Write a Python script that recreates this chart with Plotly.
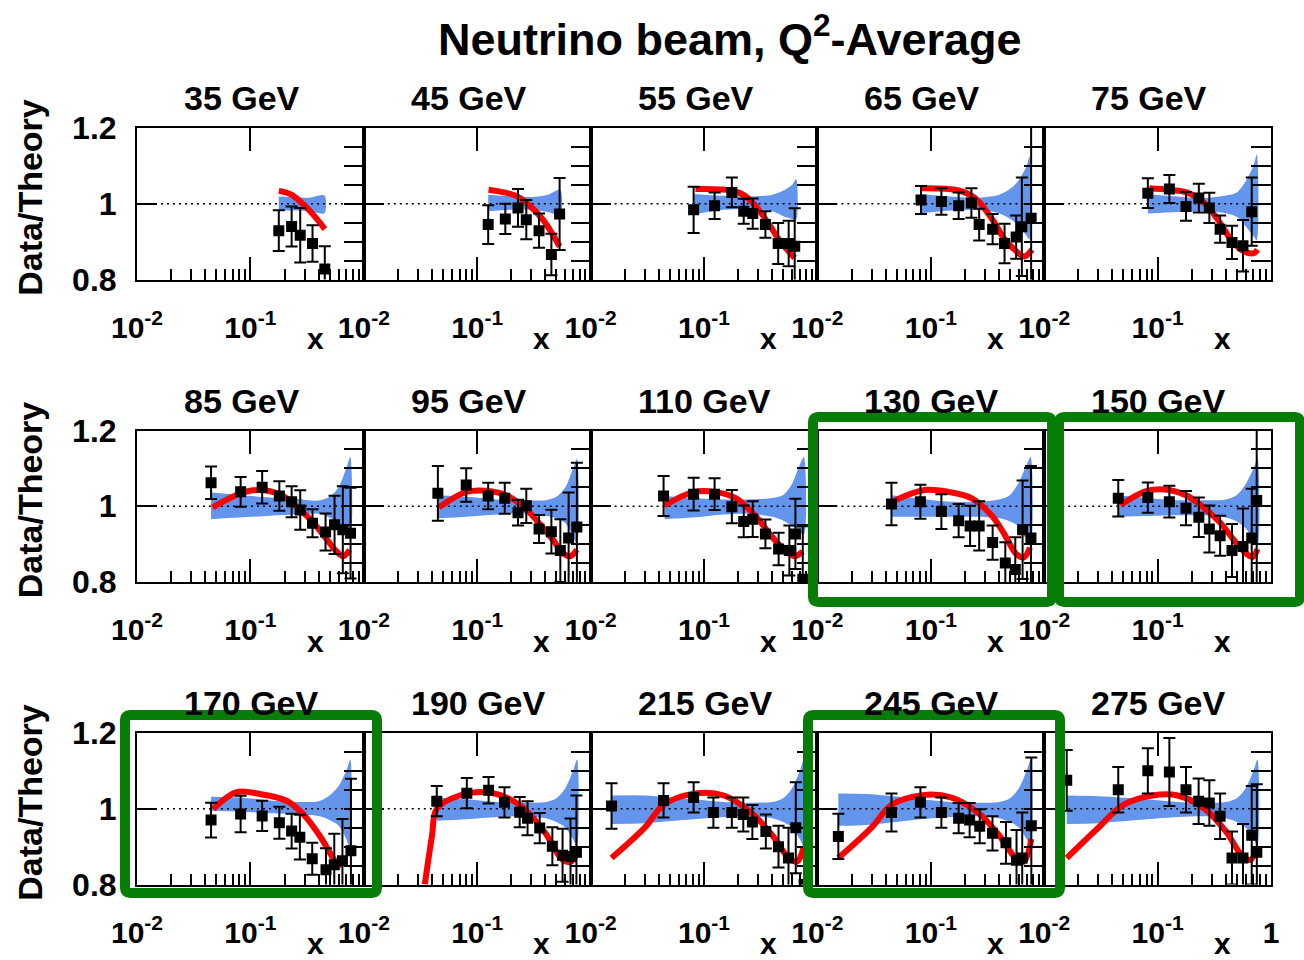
import plotly.graph_objects as go

# ---------------------------------------------------------------- data
ENERGIES = ["35 GeV", "45 GeV", "55 GeV", "65 GeV", "75 GeV",
            "85 GeV", "95 GeV", "110 GeV", "130 GeV", "150 GeV",
            "170 GeV", "190 GeV", "215 GeV", "245 GeV", "275 GeV"]

# measured Data/Theory points
DATA_X = [
    [0.178, 0.231, 0.275, 0.353, 0.453],
    [0.125, 0.177, 0.229, 0.271, 0.351, 0.451, 0.533],
    [0.081, 0.124, 0.176, 0.224, 0.269, 0.348, 0.451, 0.558, 0.631],
    [0.082, 0.124, 0.176, 0.228, 0.267, 0.351, 0.447, 0.566, 0.635, 0.767],
    [0.082, 0.127, 0.178, 0.231, 0.286, 0.356, 0.453, 0.566, 0.676],
    [0.045, 0.082, 0.127, 0.180, 0.231, 0.275, 0.353, 0.460, 0.552, 0.653, 0.764],
    [0.045, 0.080, 0.125, 0.175, 0.229, 0.271, 0.351, 0.451, 0.541, 0.640, 0.757],
    [0.044, 0.081, 0.124, 0.176, 0.224, 0.269, 0.348, 0.455, 0.566, 0.640, 0.743],
    [0.045, 0.081, 0.124, 0.176, 0.222, 0.267, 0.351, 0.454, 0.556, 0.645, 0.764],
    [0.045, 0.082, 0.127, 0.178, 0.231, 0.286, 0.356, 0.453, 0.566, 0.676, 0.748],
    [0.045, 0.082, 0.127, 0.180, 0.231, 0.273, 0.351, 0.464, 0.549, 0.648, 0.770],
    [0.044, 0.081, 0.126, 0.174, 0.237, 0.278, 0.356, 0.460, 0.566, 0.665, 0.750],
    [0.0153, 0.044, 0.081, 0.121, 0.176, 0.222, 0.267, 0.351, 0.454, 0.556, 0.645, 0.764],
    [0.0153, 0.045, 0.081, 0.124, 0.176, 0.220, 0.270, 0.350, 0.460, 0.570, 0.640, 0.770],
    [0.0158, 0.045, 0.082, 0.127, 0.178, 0.230, 0.286, 0.356, 0.453, 0.566, 0.676, 0.750],
]
DATA_Y = [
    [0.929, 0.940, 0.917, 0.895, 0.828],
    [0.945, 0.960, 0.989, 0.958, 0.929, 0.866, 0.973],
    [0.984, 0.995, 1.030, 0.980, 0.974, 0.945, 0.895, 0.895, 0.888],
    [1.010, 1.006, 0.995, 1.002, 0.945, 0.933, 0.895, 0.912, 0.939, 0.962],
    [1.028, 1.039, 0.993, 1.015, 0.989, 0.933, 0.898, 0.889, 0.979],
    [1.062, 1.038, 1.050, 1.027, 1.012, 0.990, 0.955, 0.932, 0.951, 0.938, 0.929],
    [1.034, 1.056, 1.027, 1.021, 0.983, 1.001, 0.940, 0.933, 0.883, 0.916, 0.945],
    [1.027, 1.032, 1.032, 0.999, 0.960, 0.966, 0.927, 0.887, 0.883, 0.927, 0.807],
    [1.006, 1.012, 0.986, 0.962, 0.948, 0.948, 0.904, 0.850, 0.833, 0.938, 0.916],
    [1.021, 1.023, 1.012, 0.995, 0.971, 0.940, 0.922, 0.883, 0.894, 0.916, 1.015],
    [0.970, 0.986, 0.981, 0.963, 0.941, 0.925, 0.868, 0.839, 0.852, 0.863, 0.889],
    [1.020, 1.041, 1.049, 1.017, 0.991, 0.975, 0.949, 0.901, 0.877, 0.874, 0.885],
    [1.007, 1.022, 1.030, 0.990, 0.990, 0.985, 0.965, 0.940, 0.900, 0.870, 0.950, 0.800],
    [0.927, 0.990, 1.017, 0.990, 0.975, 0.970, 0.954, 0.935, 0.910, 0.864, 0.870, 0.955],
    [1.075, 1.050, 1.100, 1.097, 1.050, 1.020, 1.015, 0.980, 0.870, 0.870, 0.930, 0.885],
]
DATA_ERR = [
    [0.054, 0.053, 0.072, 0.048, 0.060],
    [0.051, 0.040, 0.050, 0.052, 0.045, 0.055, 0.095],
    [0.061, 0.035, 0.039, 0.033, 0.040, 0.035, 0.054, 0.060, 0.100],
    [0.037, 0.035, 0.035, 0.039, 0.042, 0.040, 0.052, 0.057, 0.130, 0.250],
    [0.039, 0.037, 0.038, 0.038, 0.040, 0.036, 0.044, 0.068, 0.090],
    [0.043, 0.039, 0.043, 0.039, 0.041, 0.052, 0.037, 0.049, 0.077, 0.115, 0.120],
    [0.072, 0.044, 0.035, 0.041, 0.034, 0.045, 0.037, 0.058, 0.083, 0.120, 0.170],
    [0.053, 0.043, 0.042, 0.044, 0.042, 0.047, 0.038, 0.043, 0.066, 0.093, 0.140],
    [0.056, 0.045, 0.046, 0.044, 0.053, 0.065, 0.045, 0.055, 0.085, 0.130, 0.190],
    [0.048, 0.040, 0.042, 0.045, 0.052, 0.062, 0.053, 0.070, 0.100, 0.130, 0.250],
    [0.046, 0.048, 0.040, 0.042, 0.046, 0.059, 0.042, 0.057, 0.082, 0.110, 0.190],
    [0.040, 0.040, 0.035, 0.040, 0.040, 0.045, 0.040, 0.050, 0.070, 0.100, 0.150],
    [0.060, 0.045, 0.040, 0.040, 0.040, 0.045, 0.045, 0.045, 0.055, 0.080, 0.120, 0.150],
    [0.060, 0.050, 0.040, 0.040, 0.040, 0.045, 0.045, 0.045, 0.055, 0.080, 0.120, 0.180],
    [0.080, 0.060, 0.060, 0.090, 0.060, 0.060, 0.060, 0.060, 0.070, 0.090, 0.130, 0.180],
]

# theory prediction (red curve), ratio to the reference theory
THEORY_X = [
    [0.178, 0.230, 0.310, 0.380, 0.453],
    [0.126, 0.220, 0.285, 0.380, 0.533],
    [0.084, 0.176, 0.230, 0.287, 0.375, 0.480, 0.630],
    [0.0835, 0.176, 0.245, 0.350, 0.450, 0.570, 0.667, 0.780],
    [0.0847, 0.127, 0.180, 0.258, 0.340, 0.455, 0.580, 0.710, 0.760],
    [0.0465, 0.099, 0.180, 0.275, 0.353, 0.470, 0.574, 0.658, 0.750],
    [0.0459, 0.0803, 0.120, 0.180, 0.271, 0.351, 0.466, 0.565, 0.660, 0.757],
    [0.045, 0.081, 0.124, 0.192, 0.287, 0.375, 0.490, 0.630, 0.740],
    [0.0485, 0.088, 0.143, 0.230, 0.350, 0.454, 0.570, 0.660, 0.750],
    [0.047, 0.0818, 0.127, 0.184, 0.270, 0.360, 0.470, 0.600, 0.690, 0.760],
    [0.0469, 0.0756, 0.121, 0.208, 0.292, 0.410, 0.535, 0.615],
    [0.0345, 0.040, 0.044, 0.070, 0.127, 0.237, 0.390, 0.566, 0.670, 0.750],
    [0.0153, 0.030, 0.044, 0.081, 0.150, 0.260, 0.400, 0.560, 0.660, 0.760],
    [0.0153, 0.030, 0.045, 0.085, 0.150, 0.260, 0.400, 0.560, 0.660, 0.770],
    [0.0158, 0.030, 0.050, 0.090, 0.150, 0.260, 0.400, 0.560, 0.660, 0.760],
]
THEORY_Y = [
    [1.034, 1.024, 0.991, 0.962, 0.933],
    [1.037, 1.021, 0.997, 0.958, 0.887],
    [1.039, 1.035, 1.021, 0.993, 0.945, 0.897, 0.857],
    [1.041, 1.035, 1.015, 0.958, 0.905, 0.874, 0.861, 0.879],
    [1.041, 1.037, 1.030, 1.002, 0.958, 0.901, 0.874, 0.870, 0.879],
    [0.997, 1.041, 1.032, 0.990, 0.959, 0.913, 0.881, 0.868, 0.885],
    [0.997, 1.038, 1.041, 1.029, 0.992, 0.955, 0.911, 0.877, 0.868, 0.885],
    [1.002, 1.038, 1.038, 1.021, 0.973, 0.929, 0.890, 0.868, 0.881],
    [1.016, 1.043, 1.038, 1.021, 0.973, 0.922, 0.873, 0.865, 0.891],
    [1.003, 1.041, 1.043, 1.027, 0.990, 0.955, 0.911, 0.876, 0.866, 0.887],
    [0.999, 1.044, 1.039, 1.021, 0.986, 0.928, 0.870, 0.843],
    [0.800, 0.930, 1.000, 1.035, 1.043, 1.010, 0.940, 0.865, 0.860, 0.880],
    [0.870, 0.950, 1.010, 1.040, 1.035, 0.990, 0.930, 0.870, 0.860, 0.900],
    [0.870, 0.950, 1.010, 1.036, 1.030, 0.990, 0.930, 0.870, 0.860, 0.920],
    [0.870, 0.950, 1.010, 1.035, 1.035, 1.000, 0.940, 0.875, 0.865, 0.900],
]

# uncertainty band of the reference theory
BAND_X = [
    [0.178, 0.250, 0.330, 0.450],
    [0.125, 0.200, 0.300, 0.420, 0.540],
    [0.082, 0.150, 0.250, 0.400, 0.520, 0.600, 0.650],
    [0.082, 0.150, 0.250, 0.400, 0.530, 0.620, 0.700, 0.740],
    [0.082, 0.150, 0.250, 0.400, 0.500, 0.600, 0.700, 0.750],
    [0.045, 0.080, 0.150, 0.250, 0.400, 0.500, 0.600, 0.700, 0.760],
    [0.045, 0.080, 0.150, 0.250, 0.400, 0.500, 0.600, 0.700, 0.760],
    [0.045, 0.080, 0.150, 0.250, 0.400, 0.500, 0.600, 0.700, 0.760],
    [0.045, 0.080, 0.150, 0.250, 0.400, 0.500, 0.600, 0.700, 0.760],
    [0.045, 0.080, 0.150, 0.250, 0.400, 0.500, 0.600, 0.700, 0.760],
    [0.045, 0.080, 0.150, 0.250, 0.400, 0.500, 0.600, 0.700, 0.760],
    [0.044, 0.080, 0.150, 0.250, 0.400, 0.500, 0.600, 0.700, 0.760],
    [0.0153, 0.030, 0.080, 0.150, 0.250, 0.400, 0.500, 0.600, 0.700, 0.760],
    [0.0153, 0.030, 0.080, 0.150, 0.250, 0.400, 0.500, 0.600, 0.700, 0.760],
    [0.0158, 0.030, 0.080, 0.150, 0.250, 0.400, 0.500, 0.600, 0.700, 0.760],
]
BAND_HI = [
    [1.019, 1.017, 1.016, 1.022],
    [1.024, 1.020, 1.018, 1.024, 1.037],
    [1.026, 1.021, 1.019, 1.024, 1.037, 1.050, 1.065],
    [1.025, 1.019, 1.016, 1.024, 1.045, 1.070, 1.100, 1.125],
    [1.026, 1.019, 1.015, 1.022, 1.030, 1.060, 1.100, 1.130],
    [1.036, 1.030, 1.023, 1.020, 1.015, 1.025, 1.050, 1.100, 1.130],
    [1.029, 1.025, 1.018, 1.016, 1.016, 1.025, 1.050, 1.100, 1.125],
    [1.027, 1.022, 1.018, 1.018, 1.022, 1.030, 1.060, 1.110, 1.130],
    [1.029, 1.020, 1.012, 1.012, 1.018, 1.030, 1.064, 1.110, 1.130],
    [1.029, 1.022, 1.016, 1.016, 1.018, 1.030, 1.059, 1.100, 1.125],
    [1.032, 1.030, 1.022, 1.018, 1.020, 1.035, 1.060, 1.100, 1.130],
    [1.030, 1.025, 1.018, 1.016, 1.018, 1.028, 1.055, 1.100, 1.130],
    [1.035, 1.035, 1.025, 1.018, 1.016, 1.018, 1.028, 1.055, 1.100, 1.130],
    [1.040, 1.038, 1.025, 1.018, 1.016, 1.018, 1.028, 1.055, 1.100, 1.130],
    [1.035, 1.033, 1.025, 1.018, 1.016, 1.018, 1.028, 1.055, 1.100, 1.130],
]
BAND_LO = [
    [0.982, 0.982, 0.980, 0.975],
    [0.980, 0.984, 0.984, 0.978, 0.971],
    [0.972, 0.984, 0.986, 0.980, 0.965, 0.960, 0.958],
    [0.975, 0.982, 0.984, 0.975, 0.955, 0.935, 0.915, 0.905],
    [0.974, 0.978, 0.980, 0.975, 0.965, 0.940, 0.915, 0.903],
    [0.966, 0.970, 0.975, 0.978, 0.980, 0.970, 0.950, 0.925, 0.915],
    [0.968, 0.972, 0.978, 0.981, 0.975, 0.968, 0.955, 0.920, 0.898],
    [0.966, 0.970, 0.978, 0.981, 0.972, 0.962, 0.948, 0.930, 0.925],
    [0.972, 0.972, 0.972, 0.972, 0.968, 0.960, 0.946, 0.910, 0.894],
    [0.972, 0.974, 0.976, 0.976, 0.970, 0.960, 0.941, 0.910, 0.894],
    [0.995, 0.993, 0.988, 0.985, 0.981, 0.970, 0.955, 0.920, 0.888],
    [0.968, 0.972, 0.978, 0.980, 0.975, 0.965, 0.950, 0.920, 0.900],
    [0.960, 0.962, 0.972, 0.978, 0.980, 0.975, 0.965, 0.950, 0.920, 0.900],
    [0.955, 0.958, 0.972, 0.978, 0.980, 0.975, 0.965, 0.950, 0.920, 0.900],
    [0.960, 0.962, 0.972, 0.978, 0.980, 0.975, 0.965, 0.950, 0.920, 0.900],
]

X_RANGE = [0.01, 1.0]
Y_RANGE = [0.8, 1.2]
UNITY = 1.0
X_MAJOR = [0.01, 0.1, 1.0]
X_MINOR = [0.02, 0.03, 0.04, 0.05, 0.06, 0.07, 0.08, 0.09,
           0.2, 0.3, 0.4, 0.5, 0.6, 0.7, 0.8, 0.9]
Y_MAJOR = [0.8, 1.0, 1.2]
Y_LABELS = ["0.8", "1", "1.2"]
Y_RIGHT = [0.85, 0.9, 0.95, 1.0, 1.05, 1.1, 1.15]

# ---------------------------------------------------------------- layout
W, H = 1304, 960
FONT = "Liberation Sans, Arial, Helvetica, sans-serif"
BLUE = "#6495ED"
RED = "#ff0000"
GREEN = "#067d06"

PANEL_W = 226.8
PANEL_H = 151.5
LEFT0 = 137.0
ROW_TOP = [128.0, 430.5, 733.0]

# green highlight frames (pixel centre-lines: left, top, right, bottom)
HIGHLIGHT_BOXES = [
    (813, 417, 1052, 602),
    (1059, 417, 1300, 602),
    (125, 715, 377, 893),
    (808, 715, 1060, 893),
]
BOX_RADIUS = 5


def px(x):
    return x / W


def py(y):
    return 1 - y / H


def rounded_rect(x0, y0, x1, y1, rr):
    pts = [
        ("M", [(x0 + rr, y0)]),
        ("L", [(x1 - rr, y0)]), ("Q", [(x1, y0), (x1, y0 + rr)]),
        ("L", [(x1, y1 - rr)]), ("Q", [(x1, y1), (x1 - rr, y1)]),
        ("L", [(x0 + rr, y1)]), ("Q", [(x0, y1), (x0, y1 - rr)]),
        ("L", [(x0, y0 + rr)]), ("Q", [(x0, y0), (x0 + rr, y0)]),
    ]
    parts = []
    for cmd, coords in pts:
        parts.append(cmd + " ".join(f"{px(a):.5f},{py(b):.5f}" for a, b in coords))
    return " ".join(parts) + " Z"


fig = go.Figure()
layout = dict(
    width=W, height=H,
    margin=dict(l=0, r=0, t=0, b=0, pad=0, autoexpand=False),
    paper_bgcolor="white", plot_bgcolor="white",
    showlegend=False,
    font=dict(family=FONT, color="black"),
)
annotations = []
shapes = []

n_panels = len(ENERGIES)
for i in range(n_panels):
    r, c = divmod(i, 5)
    n = i + 1
    ov = n_panels + n
    left = LEFT0 + PANEL_W * c
    right = left + PANEL_W
    top = ROW_TOP[r]
    bottom = top + PANEL_H
    xa, ya = f"x{n}", f"y{n}"

    ticktext = ["10<sup>-2</sup>", "10<sup>-1</sup>", "1" if i == n_panels - 1 else ""]

    layout[f"xaxis{n}"] = dict(
        domain=[px(left), px(right)], anchor=ya, type="log", automargin=False,
        range=[-2, 0], showgrid=False, zeroline=False,
        showline=True, linecolor="black", linewidth=2, mirror=True,
        ticks="inside", ticklen=23, tickwidth=2, tickcolor="black",
        tickvals=X_MAJOR, ticktext=ticktext,
        tickfont=dict(family=FONT, size=30, color="black", weight="bold"),
        ticklabelstandoff=20,
        minor=dict(tickvals=X_MINOR, ticks="inside", ticklen=11,
                   tickwidth=2, tickcolor="black", showgrid=False),
    )
    layout[f"xaxis{ov}"] = dict(
        overlaying=xa, anchor=ya, side="top", type="log", range=[-2, 0],
        automargin=False, showgrid=False, zeroline=False, showline=False,
        ticks="inside", ticklen=23, tickwidth=2, tickcolor="black",
        tickvals=[0.1], showticklabels=False,
    )
    layout[f"yaxis{n}"] = dict(
        domain=[py(bottom), py(top)], anchor=xa, range=Y_RANGE, automargin=False,
        showgrid=False, zeroline=False,
        showline=True, linecolor="black", linewidth=2, mirror=True,
        ticks="inside", ticklen=20, tickwidth=2, tickcolor="black",
        tickvals=Y_MAJOR, ticktext=Y_LABELS, showticklabels=(c == 0),
        tickfont=dict(family=FONT, size=32, color="black", weight="bold"),
        ticklabelstandoff=12,
    )
    layout[f"yaxis{ov}"] = dict(
        overlaying=ya, anchor=xa, side="right", range=Y_RANGE, automargin=False,
        showgrid=False, zeroline=False, showline=False,
        ticks="inside", ticklen=20, tickwidth=2, tickcolor="black",
        tickvals=Y_RIGHT, showticklabels=False,
    )
    # keep the overlay axes attached to a subplot
    fig.add_trace(go.Scatter(x=[0.1], y=[1.0], xaxis=f"x{ov}", yaxis=f"y{ov}",
                             mode="markers", marker=dict(opacity=0),
                             hoverinfo="skip"))

    # uncertainty band
    bx, lo, hi = BAND_X[i], BAND_LO[i], BAND_HI[i]
    fig.add_trace(go.Scatter(
        x=bx + bx[::-1], y=hi + lo[::-1], xaxis=xa, yaxis=ya,
        mode="lines", fill="toself", fillcolor=BLUE,
        line=dict(width=0, color=BLUE, shape="spline", smoothing=0.8),
        hoverinfo="skip"))
    # unity reference
    fig.add_trace(go.Scatter(
        x=X_RANGE, y=[UNITY, UNITY], xaxis=xa, yaxis=ya, mode="lines",
        line=dict(color="black", width=1.6, dash="2px,4px"), hoverinfo="skip"))
    # theory curve
    fig.add_trace(go.Scatter(
        x=THEORY_X[i], y=THEORY_Y[i], xaxis=xa, yaxis=ya, mode="lines",
        line=dict(color=RED, width=6, shape="spline", smoothing=1.0)))
    # data points
    fig.add_trace(go.Scatter(
        x=DATA_X[i], y=DATA_Y[i], xaxis=xa, yaxis=ya, mode="markers",
        marker=dict(symbol="square", size=11, color="black"),
        error_y=dict(type="data", array=DATA_ERR[i], color="black",
                     thickness=2, width=6)))

    # panel title
    annotations.append(dict(
        x=px(left + 45), y=py(top - 30), xref="paper", yref="paper",
        xanchor="left", yanchor="middle", showarrow=False,
        text=ENERGIES[i], font=dict(family=FONT, size=34, color="black", weight="bold")))
    # x-axis title
    annotations.append(dict(
        x=px(left + 178), y=py(bottom + 59), xref="paper", yref="paper",
        xanchor="center", yanchor="middle", showarrow=False,
        text="x", font=dict(family=FONT, size=30, color="black", weight="bold")))
    if c == 0:
        annotations.append(dict(
            x=px(30), y=py(top + PANEL_H / 2 - 6), xref="paper", yref="paper",
            xanchor="center", yanchor="middle", showarrow=False, textangle=-90,
            text="Data/Theory",
            font=dict(family=FONT, size=34, color="black", weight="bold")))

for (bx0, by0, bx1, by1) in HIGHLIGHT_BOXES:
    shapes.append(dict(
        type="path", xref="paper", yref="paper",
        path=rounded_rect(bx0, by0, bx1, by1, BOX_RADIUS),
        line=dict(color=GREEN, width=10), fillcolor="rgba(0,0,0,0)",
        layer="above"))

annotations.append(dict(
    x=px(730), y=py(36), xref="paper", yref="paper",
    xanchor="center", yanchor="middle", showarrow=False,
    text="Neutrino beam, Q<sup>2</sup>-Average",
    font=dict(family=FONT, size=45, color="black", weight="bold")))

layout["annotations"] = annotations
layout["shapes"] = shapes
fig.update_layout(**layout)
fig.write_html("out.html")
